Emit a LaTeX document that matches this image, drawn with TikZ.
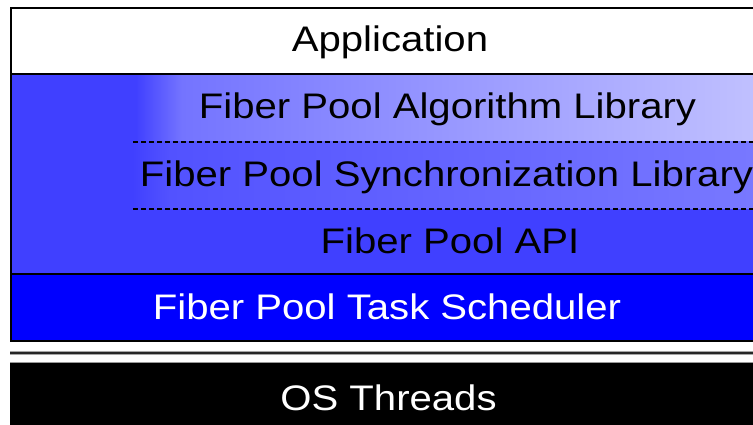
\documentclass[tikz,border=0pt]{standalone}
\usepackage{fontspec}
\setmainfont{Liberation Sans}[FakeStretch=1.13]
\newcommand{\layerfont}{\fontsize{35.5}{42}\selectfont}
\definecolor{apiblue}{HTML}{4040FF}
\definecolor{schedblue}{HTML}{0000FF}
\definecolor{algomid}{HTML}{7474FF}
\definecolor{algolight}{HTML}{C0C0FF}
\definecolor{syncmid}{HTML}{5252FF}
\definecolor{synclight}{HTML}{7878FF}
\pgfdeclarehorizontalshading{algoshade}{100bp}{color(0bp)=(apiblue); color(25bp)=(apiblue); color(25.3bp)=(apiblue); color(29bp)=(algomid); color(75bp)=(algolight); color(100bp)=(algolight)}
\pgfdeclarehorizontalshading{syncshade}{100bp}{color(0bp)=(apiblue); color(25bp)=(apiblue); color(28bp)=(syncmid); color(75bp)=(synclight); color(100bp)=(synclight)}
\tikzstyle{every node}=[inner sep=0pt, anchor=base, font=\layerfont]
\tikzstyle{layer}=[draw=black, line width=2pt]
\tikzstyle{split}=[black, line width=1.6pt, dash pattern=on 5pt off 3pt]

\begin{document}
\begin{tikzpicture}[x=1pt, y=-1pt]
    \useasboundingbox (0,0) rectangle (753,425);
    \clip (0,0) rectangle (753,425);
% Layers
    \fill[white] (11,8) rectangle (770,74);
    \fill[apiblue] (11,74) rectangle (770,274);
    \shade[shading=algoshade] (132,75) rectangle (753,142);
    \shade[shading=syncshade] (132,142) rectangle (753,209);
    \fill[schedblue] (11,274) rectangle (770,341);
% Borders
    \draw[layer] (11,8.3) rectangle (770,341);
    \draw[layer] (11,74) -- (770,74);
    \draw[layer] (11,274) -- (770,274);
% Library separators
    \draw[split] (133,142) -- (753,142);
    \draw[split] (133,209) -- (753,209);
% OS boundary
    \draw[line width=4.5pt, black!35] (10,353) -- (760,353);
    \draw[line width=2pt, black!85] (10,353) -- (760,353);
    \fill[black] (10,362) rectangle (770,430);
    \draw[black!40, line width=1pt] (10,362.5) -- (770,362.5);
% Labels
    \node (app) at (390,52) {Application};
    \node (algo) at (447.5,119) {Fiber Pool Algorithm Library};
    \node (sync) at (446.5,186) {Fiber Pool Synchronization Library};
    \node (api) at (450,253) {Fiber Pool API};
    \node[white] (sched) at (387,319) {Fiber Pool Task Scheduler};
    \node[white] (os) at (388.5,410) {OS Threads};
\end{tikzpicture}
\end{document}
